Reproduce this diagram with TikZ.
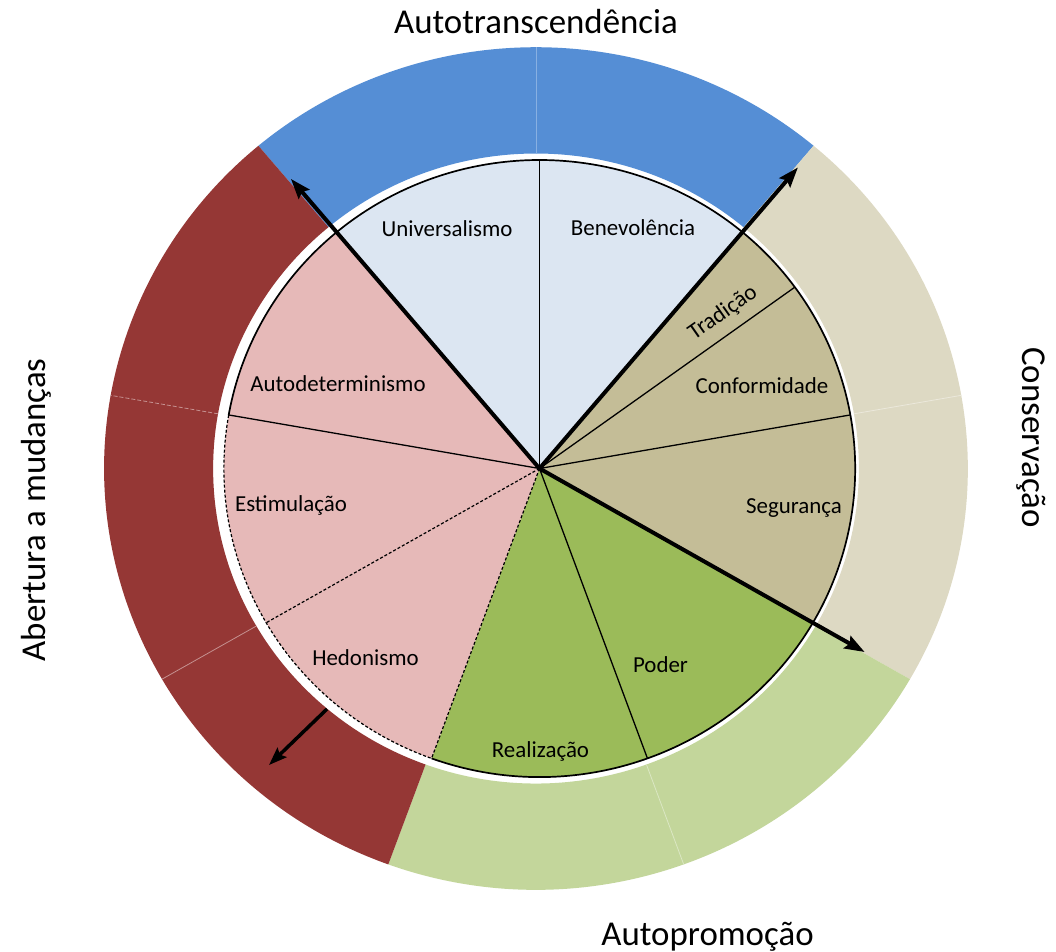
\documentclass[tikz,border=0pt]{standalone}
\usepackage{fontspec}
\setmainfont{Carlito}
\usetikzlibrary{arrows.meta}
\definecolor{ringblue}{HTML}{558ED5}
\definecolor{ringbeige}{HTML}{DDD9C3}
\definecolor{ringgreen}{HTML}{C3D69B}
\definecolor{ringred}{HTML}{953735}
\definecolor{pieblue}{HTML}{DCE6F2}
\definecolor{pietan}{HTML}{C4BD97}
\definecolor{piegreen}{HTML}{9BBB59}
\definecolor{piepink}{HTML}{E6B9B8}
\begin{document}
\begin{tikzpicture}[x=1bp,y=1bp,
  lbl/.style={font=\fontsize{23}{27}\selectfont, anchor=base, inner sep=0pt},
  ttl/.style={font=\fontsize{35}{40}\selectfont, anchor=base, inner sep=0pt},
  sepline/.style={line width=1.3bp},
  sepdash/.style={line width=1.2bp, dash pattern=on 3bp off 2bp},
  faint/.style={line width=0.8bp},
  bigarrow/.style={line width=4bp, -{Stealth[length=20bp,width=14bp,inset=3bp]}},
  smallarrow/.style={line width=3.5bp, -{Stealth[length=18bp,width=13bp,inset=3bp]}}]
\useasboundingbox (0,0) rectangle (1056,-952);
\fill[white] (0,0) rectangle (1056,-952);

% outer ring
\begin{scope}[shift={(536,-468.5)}, xscale=1.025]
  \def\ri{315}\def\ro{421.3}
  \fill[ringblue] (50:\ri) arc[start angle=50,end angle=130,radius=\ri] -- (130:\ro) arc[start angle=130,end angle=50,radius=\ro] -- cycle;
  \fill[ringbeige] (-30:\ri) arc[start angle=-30,end angle=50,radius=\ri] -- (50:\ro) arc[start angle=50,end angle=-30,radius=\ro] -- cycle;
  \fill[ringgreen] (-110:\ri) arc[start angle=-110,end angle=-30,radius=\ri] -- (-30:\ro) arc[start angle=-30,end angle=-110,radius=\ro] -- cycle;
  \fill[ringred] (130:\ri) arc[start angle=130,end angle=250,radius=\ri] -- (250:\ro) arc[start angle=250,end angle=130,radius=\ro] -- cycle;
  \draw[faint, ringblue!70!white] (90:\ri) -- (90:\ro);
  \draw[faint, ringbeige!60!white] (10:\ri) -- (10:\ro);
  \draw[faint, ringgreen!60!white] (-70:\ri) -- (-70:\ro);
  \draw[faint, ringred!55!white, dash pattern=on 4bp off 2bp] (170:\ri) -- (170:\ro);
  \draw[faint, ringred!55!white] (210:\ri) -- (210:\ro);
\end{scope}

% inner pie
\begin{scope}[shift={(539.5,-468.5)}, xscale=1.023]
  \def\R{308.5}
  \coordinate (c) at (0,0);
  \fill[pieblue] (0,0) -- (50:\R) arc[start angle=50,end angle=130,radius=\R] -- cycle;
  \fill[pietan] (0,0) -- (-30:\R) arc[start angle=-30,end angle=50,radius=\R] -- cycle;
  \fill[piegreen] (0,0) -- (-110:\R) arc[start angle=-110,end angle=-30,radius=\R] -- cycle;
  \fill[piepink] (0,0) -- (130:\R) arc[start angle=130,end angle=250,radius=\R] -- cycle;
  \draw[sepline] (c) -- (90:\R);
  \draw[sepline] (c) -- (36:\R);
  \draw[sepline] (c) -- (10:\R);
  \draw[sepline] (c) -- (-70:\R);
  \draw[sepline] (c) -- (170:\R);
  \draw[sepdash] (c) -- (210:\R);
  \draw[sepdash] (c) -- (250:\R);
  \draw[line width=1.7bp] (250:\R) arc[start angle=250,end angle=530,radius=\R];
  \draw[sepdash] (170:\R) arc[start angle=170,end angle=250,radius=\R];
  \coordinate (tipNW) at (130:378);
  \coordinate (tipNE) at (50:393);
  \coordinate (tipSE) at (-30:367);
\end{scope}

\draw[bigarrow] (c) -- (tipNW);
\draw[bigarrow] (c) -- (tipNE);
\draw[bigarrow] (c) -- (tipSE);
\coordinate (hedA) at (327,-709);
\coordinate (hedB) at (269,-765);
\draw[smallarrow] (hedA) -- (hedB);

% labels
\node[lbl] (univ) at (447,-236) {Universalismo};
\node[lbl] (bene) at (633,-235) {Benevolência};
\node[font=\fontsize{23}{27}\selectfont, inner sep=0pt, rotate=35] (trad) at (723,-313) {Tradição};
\node[lbl] (conf) at (762,-393) {Conformidade};
\node[lbl] (segu) at (794,-513) {Segurança};
\node[lbl] (pode) at (660.5,-672.7) {Poder};
\node[lbl] (real) at (540.5,-757.3) {Realização};
\node[lbl] (hedo) at (365.5,-665) {Hedonismo};
\node[lbl] (esti) at (291,-511) {Estimulação};
\node[lbl] (auto) at (338,-391.7) {Autodeterminismo};

% titles
\node[ttl] (tAT) at (536,-33.3) {Autotranscendência};
\node[ttl] (tAP) at (707.5,-945) {Autopromoção};
\node[ttl, rotate=-90] (tCO) at (1022,-437.5) {Conservação};
\node[ttl, rotate=90] (tAM) at (45,-510) {Abertura a mudanças};
\end{tikzpicture}
\end{document}
